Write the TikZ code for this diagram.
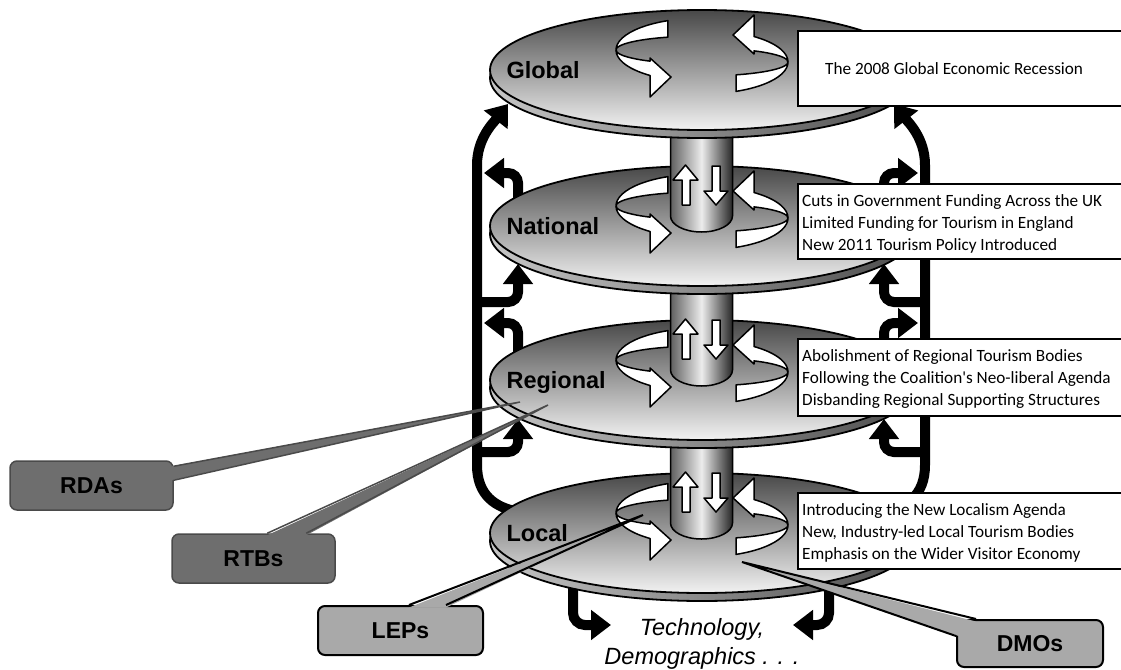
\documentclass[tikz,border=0pt]{standalone}
\usepackage{fontspec}
\setmainfont{Liberation Sans}
\newfontfamily\carl{Carlito}
\usetikzlibrary{arrows.meta,calc}
\definecolor{darkbox}{HTML}{6E6E6E}
\definecolor{darkedge}{HTML}{4A4A4A}
\definecolor{lightbox}{HTML}{A9A9A9}
\definecolor{disctop}{HTML}{484848}
\definecolor{discbot}{HTML}{F2F2F2}
\newcommand\ringpath{%
  \path[ringarrow] (246.7:86 and 32) arc[start angle=246.7,end angle=127.2,x radius=86,y radius=32]
    -- (-52,47) -- (-31,27) -- (-52,8)
    -- (127.2:86 and 14) arc[start angle=127.2,end angle=246.7,x radius=86,y radius=14] -- cycle;}
\newcommand\leveldisc[3]{%
  \path[discrim] (702,#1+8) ellipse[x radius=212,y radius=60];
  \path[discsurf] (702,#1) ellipse[x radius=212,y radius=60];
  \coordinate (#2) at (702,#1);
  \node[lvl] (#2-label) at (503,#1+8.5) {#3};
  \begin{scope}[shift={(702,#1-20)}]\ringpath\end{scope}
  \begin{scope}[shift={(702,#1-8)},rotate=180]\ringpath\end{scope}}
\newcommand\pillarseg[2]{%
  \path[pillarstyle] (670.5,#1) -- (670.5,#2-10) arc[start angle=180,end angle=0,x radius=31,y radius=16] -- (732.5,#1) -- cycle;
  \path[ringarrow] (685.5,#2-61) -- (698,#2-46) -- (690,#2-46) -- (690,#2-21) -- (682,#2-21) -- (682,#2-46) -- (673,#2-46) -- cycle;
  \path[ringarrow] (712,#2-60) -- (720,#2-60) -- (720,#2-35) -- (728,#2-35) -- (716,#2-21) -- (704,#2-35) -- (712,#2-35) -- cycle;}
\begin{document}
\begin{tikzpicture}[x=1pt,y=-1pt,
  discsurf/.style={draw=black, line width=1.8pt, top color=disctop, bottom color=discbot},
  discrim/.style={draw=black, line width=1.8pt, left color=gray!45, right color=black!70},
  ringarrow/.style={draw=black, line width=1.5pt, fill=white, line join=round},
  pillarstyle/.style={draw=black, line width=1.5pt, left color=gray!75!black, right color=black!85, middle color=gray!15},
  fb/.style={line width=10pt, draw=black, -{Triangle[width=29pt,length=20pt]}},
  tframe/.style={draw=black, line width=1.8pt, fill=white, anchor=north west, minimum width=340pt, inner sep=0pt},
  ttext/.style={anchor=west, align=left, font=\carl\fontsize{17.2}{22}\selectfont, inner sep=0pt},
  lvl/.style={anchor=base west, font=\bfseries\fontsize{23.5}{28}\selectfont},
  cdark/.style={draw=darkedge, line width=1.5pt, fill=darkbox, rounded corners=7pt, minimum width=163pt, minimum height=49pt, font=\bfseries\fontsize{23}{28}\selectfont},
  clight/.style={draw=black, line width=2pt, fill=lightbox, rounded corners=7pt, minimum width=165pt, minimum height=49pt, font=\bfseries\fontsize{23}{28}\selectfont},
  techtext/.style={anchor=base, font=\itshape\fontsize{23.5}{28}\selectfont}
]
\useasboundingbox (0,0) rectangle (1121,669);
\clip (0,0) rectangle (1121,669);
\fill[white] (0,0) rectangle (1121,669);

% ---- feedback arrows (behind the discs)
\coordinate (fbLa) at (520,512);
\coordinate (fbLb) at (508,104);
\coordinate (fbRa) at (882,512);
\coordinate (fbRb) at (894,104);
\draw[fb] (fbLa) .. controls (495,508) and (477,495) .. (477,465) -- (477,165) .. controls (477,138) and (494,122) .. (fbLb);
\draw[fb] (fbRa) .. controls (907,508) and (925,495) .. (925,465) -- (925,165) .. controls (925,138) and (908,122) .. (fbRb);

\coordinate (nTL) at (518,205); \coordinate (nTLe) at (484,173);
\coordinate (nBL) at (477,302); \coordinate (nBLe) at (518,264);
\coordinate (rTL) at (518,358); \coordinate (rTLe) at (484,323);
\coordinate (rBL) at (477,452); \coordinate (rBLe) at (518,419);
\draw[fb, rounded corners=10pt] (nTL) -- (518,173) -- (nTLe);
\draw[fb, rounded corners=10pt] (nBL) -- (518,302) -- (nBLe);
\draw[fb, rounded corners=10pt] (rTL) -- (518,323) -- (rTLe);
\draw[fb, rounded corners=10pt] (rBL) -- (518,452) -- (rBLe);

\coordinate (nTR) at (884,205); \coordinate (nTRe) at (918,173);
\coordinate (nBR) at (925,302); \coordinate (nBRe) at (884,264);
\coordinate (rTR) at (884,358); \coordinate (rTRe) at (918,323);
\coordinate (rBR) at (925,452); \coordinate (rBRe) at (884,419);
\draw[fb, rounded corners=10pt] (nTR) -- (884,173) -- (nTRe);
\draw[fb, rounded corners=10pt] (nBR) -- (884,302) -- (nBRe);
\draw[fb, rounded corners=10pt] (rTR) -- (884,323) -- (rTRe);
\draw[fb, rounded corners=10pt] (rBR) -- (884,452) -- (rBRe);

\coordinate (lbL) at (573,585); \coordinate (lbLe) at (611,625);
\coordinate (lbR) at (829,585); \coordinate (lbRe) at (793,625);
\draw[fb, rounded corners=12pt] (lbL) -- (573,625) -- (lbLe);
\draw[fb, rounded corners=12pt] (lbR) -- (829,625) -- (lbRe);

% ---- discs and pillar
\leveldisc{533}{local}{Local}
\pillarseg{380}{533}
\leveldisc{380}{regional}{Regional}
\pillarseg{226}{380}
\leveldisc{226}{national}{National}
\pillarseg{70}{226}
\leveldisc{70}{global}{Global}

% ---- text boxes
\node[tframe, minimum height=75pt] (bGlobal) at (797,30) {};
\node[ttext] (tGlobal) at ($(bGlobal.west)+(28,0)$) {The 2008 Global Economic Recession};
\node[tframe, minimum height=75pt] (bNational) at (797,183) {};
\node[ttext] (tNational) at ($(bNational.west)+(5,3)$) {Cuts in Government Funding Across the UK\\Limited Funding for Tourism in England\\New 2011 Tourism Policy Introduced};
\node[tframe, minimum height=77pt] (bRegional) at (797,338) {};
\node[ttext] (tRegional) at ($(bRegional.west)+(5,2)$) {Abolishment of Regional Tourism Bodies\\Following the Coalition's Neo-liberal Agenda\\Disbanding Regional Supporting Structures};
\node[tframe, minimum height=76pt] (bLocal) at (797,492) {};
\node[ttext] (tLocal) at ($(bLocal.west)+(5,2)$) {Introducing the New Localism Agenda\\New, Industry-led Local Tourism Bodies\\Emphasis on the Wider Visitor Economy};

\node[techtext] (tech1) at (702,635) {Technology,};
\node[techtext] (tech2) at (702,664) {Demographics . . .};

% ---- callouts
\node[cdark] (rdas) at (91.5,485.5) {RDAs};
\coordinate (rdasTip) at (520,402);
\fill[darkbox] ($(rdas.north east)+(-2,6)$) -- (rdasTip) -- ($(rdas.north east)+(-2,20)$) -- cycle;
\draw[darkedge, line width=1.5pt] ($(rdas.north east)+(0,6)$) -- (rdasTip) -- ($(rdas.north east)+(0,20)$);

\node[cdark] (rtbs) at (253.5,558.5) {RTBs};
\coordinate (rtbsTip) at (548,405);
\fill[darkbox] ($(rtbs.north west)+(96,2)$) -- (rtbsTip) -- ($(rtbs.north west)+(135,2)$) -- cycle;
\draw[darkedge, line width=1.5pt] ($(rtbs.north west)+(96,0)$) -- (rtbsTip) -- ($(rtbs.north west)+(135,0)$);

\node[clight] (leps) at (400.5,630.5) {LEPs};
\coordinate (lepsTip) at (643,515);
\fill[lightbox] ($(leps.north west)+(92,2.5)$) -- (lepsTip) -- ($(leps.north west)+(129,2.5)$) -- cycle;
\draw[black, line width=2pt] ($(leps.north west)+(92,0)$) -- (lepsTip) -- ($(leps.north west)+(129,0)$);

\node[clight, minimum width=146pt, minimum height=47pt] (dmos) at (1030,643.5) {DMOs};
\coordinate (dmosTip) at (742,562);
\fill[lightbox] ($(dmos.north west)+(2.5,17)$) -- (dmosTip) -- ($(dmos.north west)+(20,2.5)$) -- ($(dmos.north west)+(6,6)$) -- cycle;
\draw[black, line width=2pt] ($(dmos.north west)+(0,17)$) -- (dmosTip) -- ($(dmos.north west)+(20,0)$);
\end{tikzpicture}
\end{document}
